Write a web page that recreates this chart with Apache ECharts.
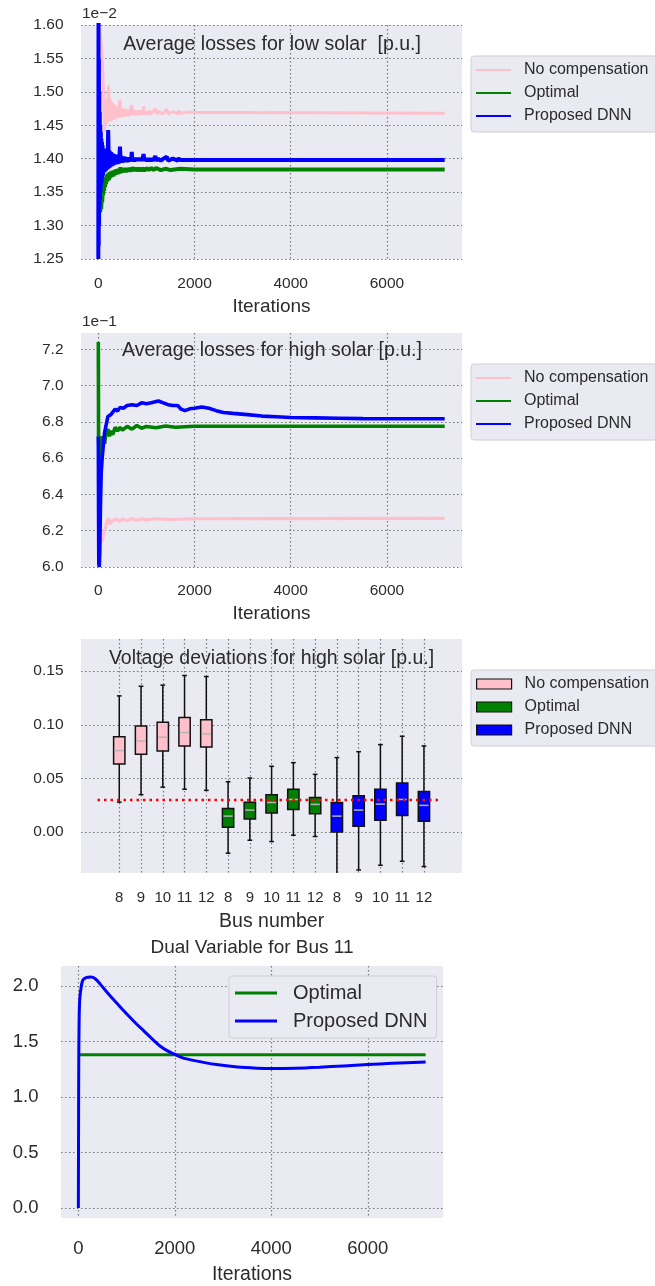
<!DOCTYPE html>
<html>
<head>
<meta charset="utf-8">
<title>Losses and voltage deviations</title>
<script src="https://cdn.jsdelivr.net/npm/echarts@6.0.0/dist/echarts.min.js"></script>
<style>
  html, body { margin: 0; padding: 0; background: #fff; }
  #main { width: 655px; height: 1286px; }
</style>
</head>
<body>
<div id="main"></div>
<script>
// ---- data ----
// panel 1: average losses, low solar (units of 1e-2 p.u.)
const lowNoComp = [[0,1.62],[20,1.60],[40,1.585],[60,1.575],[75,1.56],[90,1.535],[100,1.52],[110,1.50],[120,1.47],[130,1.44],[140,1.475],[150,1.45],[160,1.485],[170,1.452],[180,1.49],[190,1.455],[200,1.48],[212,1.51],[224,1.458],[236,1.49],[248,1.456],[260,1.487],[272,1.457],[284,1.484],[296,1.458],[310,1.482],[325,1.459],[340,1.48],[355,1.46],[370,1.478],[385,1.461],[400,1.477],[415,1.461],[430,1.476],[450,1.488],[465,1.462],[480,1.476],[495,1.462],[510,1.475],[530,1.463],[550,1.475],[570,1.463],[590,1.474],[610,1.464],[630,1.473],[650,1.464],[670,1.473],[695,1.48],[710,1.465],[730,1.473],[755,1.465],[780,1.472],[805,1.465],[830,1.472],[860,1.466],[890,1.472],[915,1.466],[940,1.478],[960,1.466],[990,1.471],[1020,1.466],[1060,1.471],[1100,1.467],[1140,1.471],[1185,1.475],[1210,1.467],[1260,1.471],[1320,1.467],[1380,1.47],[1425,1.474],[1450,1.467],[1550,1.47],[1650,1.467],[1670,1.472],[1700,1.468],[1900,1.47],[2000,1.469],[3000,1.469],[7200,1.468]];
const lowOptimal = [[20,1.40],[30,1.33],[40,1.32],[50,1.335],[60,1.325],[70,1.345],[80,1.335],[90,1.352],[100,1.345],[110,1.362],[120,1.352],[130,1.368],[140,1.358],[150,1.372],[160,1.362],[175,1.376],[190,1.366],[205,1.378],[220,1.368],[235,1.38],[250,1.371],[265,1.381],[280,1.373],[300,1.382],[320,1.374],[340,1.383],[360,1.376],[380,1.384],[400,1.377],[420,1.385],[440,1.378],[460,1.387],[480,1.379],[500,1.386],[520,1.38],[545,1.386],[570,1.38],[595,1.386],[620,1.381],[650,1.386],[680,1.381],[710,1.387],[740,1.382],[770,1.386],[800,1.382],[840,1.386],[880,1.382],[920,1.386],[960,1.382],[1000,1.386],[1050,1.383],[1100,1.386],[1150,1.383],[1200,1.386],[1300,1.383],[1400,1.385],[1500,1.383],[1700,1.385],[2000,1.384],[3000,1.384],[7200,1.384]];
const lowDNN = [[0,1.25],[4,1.62],[8,1.27],[12,1.55],[16,1.30],[20,1.50],[25,1.33],[30,1.47],[35,1.34],[40,1.45],[46,1.35],[52,1.44],[58,1.36],[64,1.43],[70,1.365],[76,1.425],[82,1.37],[88,1.42],[94,1.375],[100,1.38],[115,1.415],[130,1.38],[145,1.412],[160,1.382],[175,1.41],[190,1.384],[205,1.443],[220,1.386],[235,1.412],[250,1.387],[265,1.41],[280,1.389],[295,1.408],[310,1.39],[325,1.407],[340,1.391],[355,1.406],[370,1.392],[385,1.405],[400,1.392],[415,1.404],[430,1.393],[450,1.418],[465,1.394],[480,1.404],[495,1.394],[510,1.403],[525,1.395],[540,1.403],[560,1.395],[580,1.402],[600,1.395],[620,1.402],[640,1.396],[660,1.401],[680,1.396],[695,1.41],[710,1.396],[730,1.401],[750,1.396],[775,1.401],[800,1.397],[825,1.401],[850,1.397],[875,1.401],[900,1.397],[920,1.40],[940,1.407],[960,1.397],[990,1.40],[1020,1.397],[1050,1.40],[1080,1.397],[1110,1.40],[1140,1.397],[1185,1.404],[1210,1.397],[1250,1.40],[1300,1.397],[1350,1.40],[1425,1.403],[1450,1.397],[1550,1.40],[1650,1.397],[1670,1.401],[1700,1.398],[2000,1.398],[4000,1.398],[7200,1.398]];

// panel 2: average losses, high solar (units of 1e-1 p.u.)
const highNoComp = [[0,6.05],[20,6.10],[40,6.13],[60,6.14],[90,6.15],[120,6.19],[150,6.22],[180,6.25],[210,6.27],[240,6.235],[280,6.255],[320,6.245],[380,6.265],[440,6.25],[500,6.265],[600,6.255],[700,6.268],[800,6.258],[900,6.266],[1000,6.26],[1200,6.266],[1500,6.262],[2000,6.266],[3000,6.267],[7200,6.268]];
const highOptimal = [[0,7.24],[5,6.72],[15,6.62],[25,6.60],[40,6.67],[60,6.72],[80,6.70],[100,6.72],[130,6.68],[160,6.74],[200,6.76],[230,6.72],[260,6.75],[300,6.73],[350,6.77],[400,6.75],[450,6.77],[500,6.755],[600,6.775],[700,6.76],[800,6.78],[900,6.765],[1000,6.775],[1200,6.768],[1400,6.777],[1600,6.77],[2000,6.776],[4000,6.776],[7200,6.776]];
const highDNN = [[0,6.72],[5,6.30],[10,6.02],[20,6.0],[30,6.08],[45,6.35],[60,6.52],[80,6.60],[100,6.66],[130,6.74],[160,6.78],[200,6.83],[230,6.82],[260,6.84],[300,6.85],[350,6.87],[400,6.86],[450,6.88],[520,6.875],[600,6.89],[700,6.895],[800,6.89],[900,6.905],[1000,6.90],[1100,6.905],[1250,6.915],[1350,6.905],[1450,6.895],[1550,6.89],[1650,6.89],[1720,6.87],[1800,6.862],[1900,6.872],[2000,6.875],[2150,6.882],[2300,6.875],[2450,6.862],[2600,6.852],[2800,6.847],[3100,6.84],[3400,6.832],[3700,6.828],[4000,6.824],[4500,6.822],[5000,6.82],[5500,6.818],[6000,6.817],[7200,6.817]];

// panel 3: voltage deviations, box stats per bus: [low whisker, q1, median, q3, high whisker]
const busLabels = ['8','9','10','11','12','8','9','10','11','12','8','9','10','11','12'];
const boxNoComp = [[0.028,0.0636,0.076,0.089,0.127],[0.035,0.0726,0.085,0.099,0.136],[0.042,0.0757,0.0885,0.1025,0.137],[0.040,0.0804,0.0928,0.1068,0.146],[0.039,0.0794,0.0916,0.1047,0.145]];
const boxOptimal = [[-0.0196,0.0047,0.015,0.022,0.047],[-0.0075,0.0124,0.0206,0.028,0.0505],[-0.0087,0.018,0.0277,0.0349,0.0614],[-0.0028,0.0212,0.0305,0.040,0.0648],[-0.004,0.0171,0.0259,0.0324,0.0539]];
const boxDNN = [[-0.046,0.0003,0.015,0.0277,0.0695],[-0.0352,0.0056,0.0206,0.034,0.075],[-0.0308,0.0112,0.0262,0.040,0.0816],[-0.0271,0.0156,0.0305,0.0458,0.0894],[-0.032,0.0103,0.025,0.038,0.0804]];
const voltLimit = 0.03;
const limitSpan = [0, 15.8];

// panel 4: dual variable for bus 11
const dualOptimal = [[0,1.38],[7200,1.38]];
const dualDNN = [[0,0],[4,0.7],[8,1.3],[15,1.65],[25,1.85],[45,1.95],[90,2.05],[160,2.075],[260,2.08],[350,2.065],[466,2.01],[671,1.905],[850,1.82],[1014,1.743],[1200,1.66],[1356,1.596],[1550,1.515],[1698,1.457],[1850,1.415],[1972,1.39],[2150,1.355],[2382,1.33],[2862,1.292],[3300,1.27],[3700,1.26],[4000,1.257],[4500,1.259],[5000,1.268],[5500,1.28],[6000,1.292],[6500,1.303],[7200,1.316]];

// ---- styling ----
const FONT = "'Liberation Sans', Arial, sans-serif";
const TXT = '#2b2b2b';
const BG = '#EAEAF2';
const C_PINK = '#ffc0cb', C_GREEN = '#008000', C_BLUE = '#0000ff';

const dots = { color: '#777', type: [1.5, 2.5], width: 1.2 };

function xIter(gridIndex, fontSize, margin, nameGap, nameSize) {
  return {
    gridIndex, type: 'value', min: -360, max: 7560,
    axisLine: { show: false }, axisTick: { show: false },
    axisLabel: { fontFamily: FONT, fontSize, color: TXT, margin, showMinLabel: false, showMaxLabel: false,
      formatter: v => String(v) },
    splitLine: { show: true, showMinLine: false, showMaxLine: false, lineStyle: dots },
    name: 'Iterations', nameLocation: 'middle', nameGap,
    nameTextStyle: { fontFamily: FONT, fontSize: nameSize, color: TXT }
  };
}

function yVal(gridIndex, opts) {
  return Object.assign({
    gridIndex, type: 'value',
    axisLine: { show: false }, axisTick: { show: false },
    splitLine: { show: true, lineStyle: dots }
  }, opts);
}

function line(name, data, color, width, idx) {
  return {
    type: 'line', name, data, xAxisIndex: idx, yAxisIndex: idx,
    symbol: 'none', showSymbol: false, animation: false,
    lineStyle: { color, width }, itemStyle: { color }
  };
}

// one box + whiskers, drawn from the axis scales
function renderBox(params, api) {
  const p = api.value(0);
  const lo = api.coord([p, api.value(1)]);
  const q1 = api.coord([p, api.value(2)]);
  const md = api.coord([p, api.value(3)]);
  const q3 = api.coord([p, api.value(4)]);
  const hi = api.coord([p, api.value(5)]);
  const w = api.size([0.52, 0])[0];
  const cap = w * 0.42;
  const x = q1[0];
  const ink = { stroke: '#111', lineWidth: 1.5 };
  return {
    type: 'group',
    children: [
      { type: 'line', shape: { x1: x, y1: hi[1], x2: x, y2: q3[1] }, style: ink },
      { type: 'line', shape: { x1: x, y1: q1[1], x2: x, y2: lo[1] }, style: ink },
      { type: 'line', shape: { x1: x - cap / 2, y1: hi[1], x2: x + cap / 2, y2: hi[1] }, style: ink },
      { type: 'line', shape: { x1: x - cap / 2, y1: lo[1], x2: x + cap / 2, y2: lo[1] }, style: ink },
      { type: 'rect', shape: { x: x - w / 2, y: q3[1], width: w, height: q1[1] - q3[1] },
        style: { fill: api.visual('color'), stroke: '#111', lineWidth: 1.5 } },
      { type: 'line', shape: { x1: x - w / 2 + 1, y1: md[1], x2: x + w / 2 - 1, y2: md[1] },
        style: { stroke: '#b5b5b5', lineWidth: 1.5 } }
    ]
  };
}

function boxSeries(name, boxes, offset, color) {
  return {
    type: 'custom', name, xAxisIndex: 3, yAxisIndex: 3, clip: true,
    renderItem: renderBox, itemStyle: { color }, animation: false,
    encode: { x: 0, y: [1, 2, 3, 4, 5] },
    data: boxes.map((b, i) => [offset + i + 1].concat(b))
  };
}

function legendBox(opts) {
  return Object.assign({
    orient: 'vertical', left: 471,
    icon: 'rect', itemWidth: 35, itemHeight: 2, itemGap: 7,
    padding: [6, 10, 8, 5],
    backgroundColor: BG, borderColor: '#cfcfd6', borderWidth: 1, borderRadius: 3,
    textStyle: { fontFamily: FONT, fontSize: 16, lineHeight: 16, color: TXT, padding: [0, 0, 0, 8] },
    selectedMode: false,
    formatter: n => n.split('|')[0]
  }, opts);
}

function label(text, x, y, size, align) {
  return {
    type: 'text', x, y, z: 10,
    style: { text, font: size + 'px ' + FONT, fill: TXT, align: align || 'center', verticalAlign: 'middle' }
  };
}

const chart = echarts.init(document.getElementById('main'), null, { renderer: 'canvas' });

const option = {
  animation: false,
  backgroundColor: '#fff',
  grid: [
    { left: 81, top: 25, width: 381, height: 234, show: true, backgroundColor: BG, borderWidth: 0 },
    { left: 81, top: 333, width: 381, height: 234, show: true, backgroundColor: BG, borderWidth: 0 },
    { left: 81, top: 639, width: 381, height: 234, show: true, backgroundColor: BG, borderWidth: 0 },
    { left: 97.5, top: 639, width: 348.2, height: 234, show: false },
    { left: 61, top: 966, width: 382, height: 255, show: true, backgroundColor: BG, borderWidth: 0 }
  ],
  xAxis: [
    xIter(0, 15.5, 17, 38, 19),
    xIter(1, 15.5, 15.5, 37, 19),
    { gridIndex: 2, type: 'value', show: false, min: 0, max: 1 },
    {
      gridIndex: 3, type: 'value', min: 0, max: 16, interval: 1,
      axisLine: { show: false }, axisTick: { show: false },
      axisLabel: { fontFamily: FONT, fontSize: 15, color: TXT, margin: 17,
        formatter: v => (v >= 1 && v <= 15 ? busLabels[v - 1] : '') },
      splitLine: { show: true, showMinLine: false, showMaxLine: false, lineStyle: dots },
      name: 'Bus number', nameLocation: 'middle', nameGap: 39,
      nameTextStyle: { fontFamily: FONT, fontSize: 19.5, color: TXT }
    },
    xIter(4, 18.5, 21.5, 47, 19.5)
  ],
  yAxis: [
    yVal(0, { min: 1.25, max: 1.6, interval: 0.05,
      axisLabel: { fontFamily: FONT, fontSize: 15.5, color: TXT, margin: 17.5, formatter: v => v.toFixed(2) } }),
    yVal(1, { min: 6.0, max: 7.29, interval: 0.2,
      axisLabel: { fontFamily: FONT, fontSize: 15.5, color: TXT, margin: 17.5, showMaxLabel: false, formatter: v => v.toFixed(1) },
      splitLine: { show: true, showMaxLine: false, lineStyle: dots } }),
    yVal(2, { min: -0.038, max: 0.18,
      axisLabel: { fontFamily: FONT, fontSize: 15.5, color: TXT, margin: 17.5, showMinLabel: false, showMaxLabel: false, formatter: v => v.toFixed(2) },
      splitLine: { show: true, showMinLine: false, showMaxLine: false, lineStyle: dots } }),
    yVal(3, { min: -0.038, max: 0.18, show: false }),
    yVal(4, { min: -0.09, max: 2.18,
      axisLabel: { fontFamily: FONT, fontSize: 18.5, color: TXT, margin: 22.5, showMinLabel: false, showMaxLabel: false, formatter: v => v.toFixed(1) },
      splitLine: { show: true, showMinLine: false, showMaxLine: false, lineStyle: dots } })
  ],
  legend: [
    legendBox({ top: 56, data: ['No compensation', 'Optimal', 'Proposed DNN'] }),
    legendBox({ top: 364, data: ['No compensation', 'Optimal', 'Proposed DNN'] }),
    legendBox({ top: 670, itemHeight: 10, itemGap: 7,
      textStyle: { fontFamily: FONT, fontSize: 16, lineHeight: 16, color: TXT, padding: [0, 0, 0, 8] },
      itemStyle: { borderColor: '#111', borderWidth: 1.2 },
      data: ['No compensation|box', 'Optimal|box', 'Proposed DNN|box'] }),
    legendBox({ left: 229, top: 976, itemWidth: 42, itemHeight: 3, itemGap: 8,
      padding: [7, 9, 7, 6],
      textStyle: { fontFamily: FONT, fontSize: 20, lineHeight: 20, color: TXT, padding: [0, 0, 0, 11] },
      data: ['Optimal|dual', 'Proposed DNN|dual'] })
  ],
  graphic: [
    label('1e\u22122', 82, 14, 15.5, 'left'),
    label('Average losses for low solar  [p.u.]', 272, 44.5, 19.5),
    label('1e\u22121', 82, 322, 15.5, 'left'),
    label('Average losses for high solar [p.u.]', 272, 351, 19.5),
    label('Voltage deviations for high solar [p.u.]', 271.5, 658.5, 19.5),
    label('Dual Variable for Bus 11', 252, 948, 19)
  ],
  series: [
    line('No compensation', lowNoComp, C_PINK, 3, 0),
    line('Optimal', lowOptimal, C_GREEN, 4, 0),
    line('Proposed DNN', lowDNN, C_BLUE, 4, 0),

    line('No compensation', highNoComp, C_PINK, 3.2, 1),
    line('Optimal', highOptimal, C_GREEN, 3.6, 1),
    line('Proposed DNN', highDNN, C_BLUE, 3.6, 1),

    boxSeries('No compensation|box', boxNoComp, 0, C_PINK),
    boxSeries('Optimal|box', boxOptimal, 5, C_GREEN),
    boxSeries('Proposed DNN|box', boxDNN, 10, C_BLUE),
    {
      type: 'line', name: 'limit', xAxisIndex: 3, yAxisIndex: 3, z: 5,
      symbol: 'none', animation: false, clip: false,
      data: limitSpan.map(x => [x, voltLimit]),
      lineStyle: { color: '#ff0000', width: 2.5, type: [2.5, 4] }
    },

    line('Optimal|dual', dualOptimal, C_GREEN, 3, 4),
    Object.assign(line('Proposed DNN|dual', dualDNN, C_BLUE, 3, 4), { smooth: 0.3 })
  ]
};

chart.setOption(option);
</script>
</body>
</html>
